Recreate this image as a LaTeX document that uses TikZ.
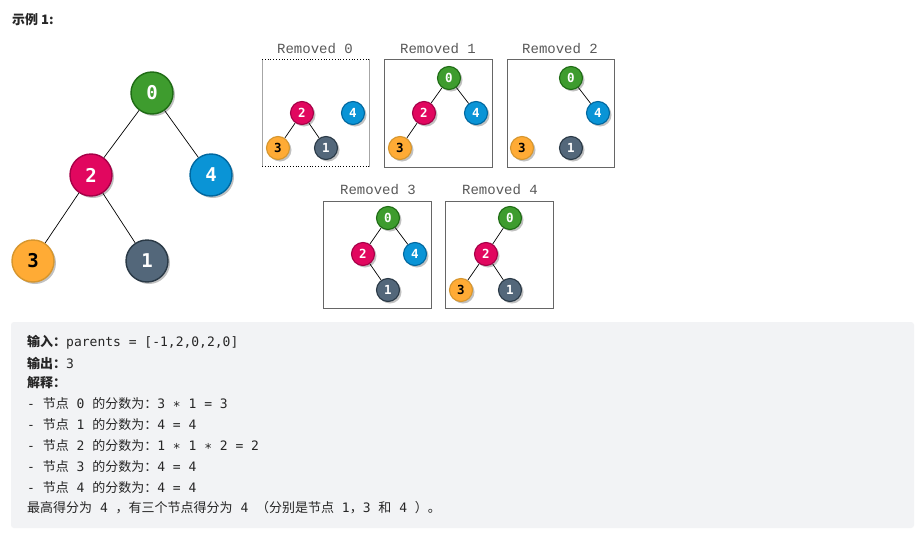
\documentclass[tikz,border=0pt]{standalone}
\usepackage{fontspec}
\usetikzlibrary{shadows,backgrounds}
\newfontfamily\cjk{Noto Sans CJK SC}
\newfontfamily\mono{DejaVu Sans Mono}
\newfontfamily\lmono{Liberation Mono}
\newcommand\zh[1]{{\cjk #1}}
\definecolor{gF}{HTML}{3E9C2E}\definecolor{gD}{HTML}{1E6B14}
\definecolor{pF}{HTML}{E1075F}\definecolor{pD}{HTML}{A50047}
\definecolor{bF}{HTML}{0A94D6}\definecolor{bD}{HTML}{00679F}
\definecolor{oF}{HTML}{FFAB35}\definecolor{oD}{HTML}{D6962E}
\definecolor{sF}{HTML}{53677A}\definecolor{sD}{HTML}{2A3946}
\definecolor{panel}{HTML}{F2F3F5}
\definecolor{txt}{HTML}{262626}
\tikzset{
  nd/.style={circle, inner sep=0pt, drop shadow={shadow xshift=2pt, shadow yshift=-2pt, fill=black!40, opacity=0.6}},
  big/.style={nd, minimum size=42pt, line width=1.4pt, font=\mono\bfseries\fontsize{19}{19}\selectfont},
  sml/.style={nd, minimum size=23pt, line width=1.1pt, font=\mono\bfseries\fontsize{12.5}{12.5}\selectfont},
  c0/.style={fill=gF, draw=gD, text=white},
  c2/.style={fill=pF, draw=pD, text=white},
  c4/.style={fill=bF, draw=bD, text=white},
  c3/.style={fill=oF, draw=oD, text=black},
  c1/.style={fill=sF, draw=sD, text=white},
  edge/.style={draw=black, line width=0.7pt},
  box/.style={draw=black!60, line width=0.9pt},
  ttl/.style={font=\lmono\fontsize{14}{14}\selectfont, text=black!65},
  ln/.style={anchor=west, inner sep=0pt, font=\mono\fontsize{13}{13}\selectfont, text=txt},
}
\begin{document}
\begin{tikzpicture}[x=1pt,y=-1pt]
\useasboundingbox (0,0) rectangle (918,538);
\fill[white] (0,0) rectangle (918,538);
% title
\node[ln, font=\cjk\bfseries\fontsize{13}{13}\selectfont] (title) at (12,20) {示例 1:};
% big tree
\node[big,c0] (B0) at (152,93) {0};
\node[big,c2] (B2) at (91,175) {2};
\node[big,c4] (B4) at (211,175) {4};
\node[big,c3] (B3) at (33,261) {3};
\node[big,c1] (B1) at (147,261) {1};
\draw[edge] (B0) -- (B2);
\draw[edge] (B0) -- (B4);
\draw[edge] (B2) -- (B3);
\draw[edge] (B2) -- (B1);
% Removed 0
\node[ttl] (t0) at (315,49) {Removed 0};
\draw[black!35, line width=1.6pt] (262.5,59) -- (262.5,167) (369.5,59) -- (369.5,167);
\draw[black, dotted, line width=0.8pt] (262,59.5) -- (370,59.5) (262,166.5) -- (370,166.5);
\node[sml,c2] (a2) at (302,113) {2};
\node[sml,c4] (a4) at (353,113) {4};
\node[sml,c3] (a3) at (278,148) {3};
\node[sml,c1] (a1) at (326,148) {1};
\draw[edge] (a2) -- (a3);
\draw[edge] (a2) -- (a1);
% Removed 1
\node[ttl] (t1) at (438,49) {Removed 1};
\draw[box] (384.5,59.5) rectangle (492,167);
\node[sml,c0] (b0) at (449,78) {0};
\node[sml,c2] (b2) at (424,113) {2};
\node[sml,c4] (b4) at (476,113) {4};
\node[sml,c3] (b3) at (400,148) {3};
\draw[edge] (b0) -- (b2);
\draw[edge] (b0) -- (b4);
\draw[edge] (b2) -- (b3);
% Removed 2
\node[ttl] (t2) at (560,49) {Removed 2};
\draw[box] (507,59.5) rectangle (614,167);
\node[sml,c0] (c0n) at (571,78) {0};
\node[sml,c4] (c4n) at (598,113) {4};
\node[sml,c3] (c3n) at (522,148) {3};
\node[sml,c1] (c1n) at (571,148) {1};
\draw[edge] (c0n) -- (c4n);
% Removed 3
\node[ttl] (t3) at (378,190) {Removed 3};
\draw[box] (323.5,201) rectangle (431.5,308);
\node[sml,c0] (d0) at (388,218) {0};
\node[sml,c2] (d2) at (363,254) {2};
\node[sml,c4] (d4) at (415,254) {4};
\node[sml,c1] (d1) at (388,290) {1};
\draw[edge] (d0) -- (d2);
\draw[edge] (d0) -- (d4);
\draw[edge] (d2) -- (d1);
% Removed 4
\node[ttl] (t4) at (500,190) {Removed 4};
\draw[box] (445.5,201) rectangle (553,308);
\node[sml,c0] (e0) at (510,218) {0};
\node[sml,c2] (e2) at (486,254) {2};
\node[sml,c3] (e3) at (461,290) {3};
\node[sml,c1] (e1) at (510,290) {1};
\draw[edge] (e0) -- (e2);
\draw[edge] (e2) -- (e3);
\draw[edge] (e2) -- (e1);
% panel
\fill[panel, rounded corners=3pt] (11,322) rectangle (914,528);
\node[ln] (l1) at (27,342) {{\cjk\bfseries 输入：}parents = [-1,2,0,2,0]};
\node[ln] (l2) at (27,363) {{\cjk\bfseries 输出：}3};
\node[ln] (l3) at (27,383) {{\cjk\bfseries 解释：}};
\node[ln] (l4) at (27,404) {- \zh{节点} 0 \zh{的分数为：}3 ∗ 1 = 3};
\node[ln] (l5) at (27,425) {- \zh{节点} 1 \zh{的分数为：}4 = 4};
\node[ln] (l6) at (27,446) {- \zh{节点} 2 \zh{的分数为：}1 ∗ 1 ∗ 2 = 2};
\node[ln] (l7) at (27,467) {- \zh{节点} 3 \zh{的分数为：}4 = 4};
\node[ln] (l8) at (27,488) {- \zh{节点} 4 \zh{的分数为：}4 = 4};
\node[ln] (l9) at (27,508) {\zh{最高得分为} 4 \zh{，有三个节点得分为} 4 \zh{（分别是节点} 1\zh{，}3 \zh{和} 4 \zh{）。}};
\end{tikzpicture}
\end{document}
